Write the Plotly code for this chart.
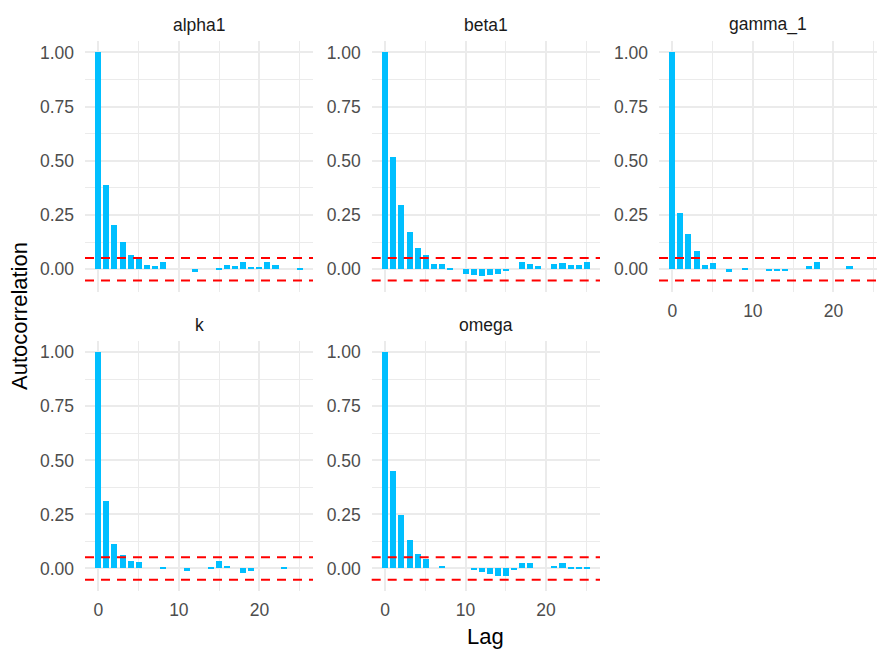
import plotly.graph_objects as go

# ---- data ----
lags = list(range(26))
alpha1 = [1.0, 0.387, 0.203, 0.126, 0.066, 0.051, 0.021, 0.017, 0.034, 0.0, 0.0, 0.0,
          -0.014, 0.0, 0.0, 0.006, 0.021, 0.017, 0.036, 0.012, 0.012, 0.036, 0.022, 0.0, 0.0, 0.004]
beta1 = [1.0, 0.52, 0.296, 0.173, 0.096, 0.066, 0.023, 0.023, 0.008, 0.0, -0.022, -0.025,
         -0.03, -0.028, -0.02, -0.005, 0.0, 0.034, 0.023, 0.017, 0.0, 0.023, 0.028, 0.018, 0.018, 0.034]
gamma_1 = [1.0, 0.26, 0.164, 0.085, 0.022, 0.028, 0.0, -0.013, 0.0, 0.007, 0.0, 0.0,
           -0.004, -0.005, -0.01, 0.0, 0.0, 0.017, 0.036, 0.0, 0.0, 0.0, 0.017, 0.0, 0.0, 0.0]
k = [1.0, 0.314, 0.112, 0.06, 0.034, 0.028, 0.0, 0.0, 0.006, 0.0, 0.0, -0.01,
     0.0, 0.0, 0.004, 0.034, 0.013, 0.0, -0.02, -0.012, 0.0, 0.0, 0.0, 0.005, 0.0, 0.0]
omega = [1.0, 0.453, 0.248, 0.13, 0.067, 0.045, 0.0, 0.01, 0.0, 0.0, 0.0, -0.003,
         -0.015, -0.025, -0.035, -0.035, -0.004, 0.025, 0.025, 0.0, 0.0, 0.012, 0.023, 0.004, 0.004, 0.004]
panel_names = ["alpha1", "beta1", "gamma_1", "k", "omega"]
panel_values = [alpha1, beta1, gamma_1, k, omega]
ci_bound = 0.052
y_tickvals = [0, 0.25, 0.5, 0.75, 1.0]
y_ticktext = ["0.00", "0.25", "0.50", "0.75", "1.00"]
x_tickvals = [0, 10, 20]

# ---- layout geometry (pixels) ----
W, H = 877, 649
col_px = [(85, 313), (371.7, 600), (659, 877)]
row_px = [(41, 292), (341, 591)]
px_per_lag = 228 / 28.32
x_left = -1.66
FONT = "Liberation Sans, Arial, sans-serif"
GRID = "#EBEBEB"

fig = go.Figure()
layout = dict(
    width=W, height=H, margin=dict(l=0, r=0, t=0, b=0),
    paper_bgcolor="white", plot_bgcolor="white", showlegend=False,
    font=dict(family=FONT, size=17.5, color="#4D4D4D"),
    bargap=0,
)
shapes = []
annotations = []

for i, (name, vals) in enumerate(zip(panel_names, panel_values)):
    r, c = divmod(i, 3)
    n = i + 1
    xa = "x" if n == 1 else f"x{n}"
    ya = "y" if n == 1 else f"y{n}"
    xkey = "xaxis" if n == 1 else f"xaxis{n}"
    ykey = "yaxis" if n == 1 else f"yaxis{n}"
    x0p, x1p = col_px[c]
    y0p, y1p = row_px[r]
    x_right = x_left + (x1p - x0p) / px_per_lag
    show_x = (r == 1) or (c == 2)

    fig.add_trace(go.Bar(x=lags, y=vals, width=0.75, xaxis=xa, yaxis=ya,
                         marker=dict(color="#00BFFF", line=dict(width=0)),
                         hoverinfo="x+y"))

    layout[xkey] = dict(
        domain=[x0p / W, x1p / W], anchor=ya, range=[x_left, x_right],
        tickvals=x_tickvals, showticklabels=show_x, ticks="",
        ticklabelstandoff=6,
        showgrid=True, gridcolor=GRID, gridwidth=2, zeroline=False, showline=False,
        minor=dict(tickvals=[5, 15, 25], showgrid=True, gridcolor=GRID, gridwidth=1),
        tickfont=dict(size=17.5, color="#4D4D4D"),
    )
    layout[ykey] = dict(
        domain=[1 - y1p / H, 1 - y0p / H], anchor=xa, range=[-0.1046, 1.0526],
        tickvals=y_tickvals, ticktext=y_ticktext, ticks="",
        ticklabelstandoff=10,
        showgrid=True, gridcolor=GRID, gridwidth=2, zeroline=False, showline=False,
        minor=dict(tickvals=[0.125, 0.375, 0.625, 0.875], showgrid=True, gridcolor=GRID, gridwidth=1),
        tickfont=dict(size=17.5, color="#4D4D4D"),
    )
    for yv in (ci_bound, -ci_bound):
        shapes.append(dict(type="line", xref=f"{xa} domain", yref=ya, x0=0, x1=1, y0=yv, y1=yv,
                           line=dict(color="#FF0000", width=2, dash="9px,7px"), layer="above"))
    annotations.append(dict(text=name, xref="paper", yref="paper",
                            x=((x0p + x1p) / 2) / W, y=1 - (y0p - 16.5) / H,
                            xanchor="center", yanchor="middle", showarrow=False,
                            font=dict(size=17.5, color="#1A1A1A", family=FONT)))

annotations.append(dict(text="Lag", xref="paper", yref="paper", x=485.5 / W, y=1 - 636 / H,
                        xanchor="center", yanchor="middle", showarrow=False,
                        font=dict(size=22, color="#000000", family=FONT)))
annotations.append(dict(text="Autocorrelation", xref="paper", yref="paper", x=19 / W, y=1 - 316 / H,
                        xanchor="center", yanchor="middle", textangle=-90, showarrow=False,
                        font=dict(size=22, color="#000000", family=FONT)))

layout["shapes"] = shapes
layout["annotations"] = annotations
fig.update_layout(**layout)
fig.write_html("out.html")
